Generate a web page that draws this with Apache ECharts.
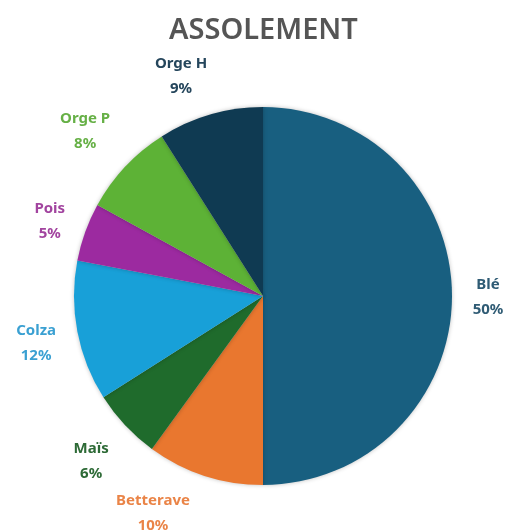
<!DOCTYPE html>
<html><head><meta charset="utf-8">
<script src="https://cdn.jsdelivr.net/npm/echarts@6/dist/echarts.min.js"></script>
<style>html,body{margin:0;padding:0;background:#fff}#c{width:509px;height:531px}</style>
</head><body><div id="c"></div>
<script>
const categories = ['Blé', 'Betterave', 'Maïs', 'Colza', 'Pois', 'Orge P', 'Orge H'];
const values = [50, 10, 6, 12, 5, 8, 9];
const sliceColors = ['#185f80', '#e9772f', '#1f6b2c', '#18a0d8', '#9c2aa0', '#5db236', '#0f3a52'];
const labelColors = ['#2f5b74', '#ea8447', '#2d6a36', '#3aa0d2', '#a2449f', '#66b046', '#25465c'];
const title = 'ASSOLEMENT';

// best-fit style nudges of the label text (layout only)
const nudge = { 'Blé': [-8, 1], 'Betterave': [-38, -4], 'Orge H': [-17, 4], 'Orge P': [-8, -5],
  'Maïs': [-2, 6], 'Pois': [6, 4], 'Colza': [2, 4] };

const data = categories.map((c, i) => ({ name: c, value: values[i], itemStyle: { color: sliceColors[i] } }));
const labelData = categories.map((c, i) => ({ name: c, value: values[i],
  label: { color: labelColors[i], offset: nudge[c] || [0, 0] } }));

const chart = echarts.init(document.getElementById('c'));
chart.setOption({
  animation: false,
  title: { text: title, left: 164, top: 11,
    textStyle: { fontFamily: 'Noto Sans', fontSize: 29, fontWeight: 600, color: '#555555' } },
  series: [
    { type: 'pie', center: [263, 296], radius: [0, 189], startAngle: 90, clockwise: true,
      silent: true, label: { show: false }, labelLine: { show: false },
      itemStyle: { shadowBlur: 4, shadowColor: 'rgba(0,0,0,0.25)' },
      data: data },
    { type: 'pie', center: [263, 296], radius: [189, 271], startAngle: 90, clockwise: true,
      silent: true, itemStyle: { color: 'rgba(0,0,0,0)' },
      label: { show: true, position: 'inside', fontFamily: 'Noto Sans', fontWeight: 'bold',
        fontSize: 15, lineHeight: 25, align: 'center', overflow: 'none',
        formatter: p => p.name + '\n' + p.value + '%' },
      labelLine: { show: false },
      data: labelData }
  ]
});
</script></body></html>
